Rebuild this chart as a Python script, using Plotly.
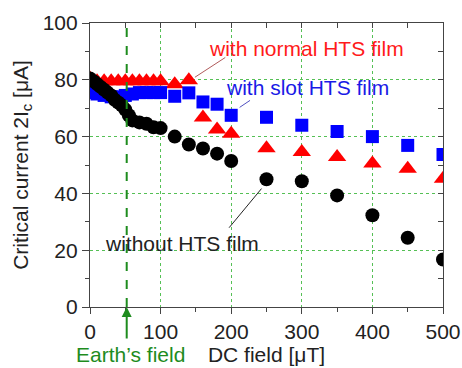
import plotly.graph_objects as go

# Data
x_without = [0, 5, 10, 15, 20, 25, 30, 35, 40, 45, 50, 55, 60, 70, 80, 90, 100,
             120, 140, 160, 180, 200, 250, 300, 350, 400, 450, 500]
y_without = [80.5, 79.5, 78.5, 77.5, 76.5, 75.5, 74.5, 73, 72, 71, 69.5, 67.5, 65.7,
             65, 64.5, 63.3, 63, 60, 57.2, 55.8, 54, 51.4, 45, 44.3, 39.3, 32.3, 24.4, 16.7]

x_slot = [0, 10, 20, 30, 40, 50, 60, 70, 80, 90, 100, 120, 140, 160, 180, 200,
          250, 300, 350, 400, 450, 500]
y_slot = [75.5, 75, 74.5, 74, 74, 74.5, 75, 75.5, 75.5, 75.5, 75.5, 74.2, 75.4,
          72.2, 71.4, 67.5, 66.8, 64, 61.8, 60, 56.9, 53.7]

x_normal = [0, 10, 20, 30, 40, 50, 60, 70, 80, 90, 100, 120, 140, 160, 180, 200,
            250, 300, 350, 400, 450, 500]
y_normal = [80.5, 79.5, 79.5, 79.5, 79.5, 79.5, 79.5, 79.5, 79.5, 79.5, 79.5, 78.4,
            79.8, 66.7, 62.5, 61, 55.9, 54.6, 52.8, 50.5, 48.7, 45.2]

earth_field = 52

FONT = "Liberation Sans, Arial, sans-serif"
GREEN = "#1e8c1e"

fig = go.Figure()
fig.add_trace(go.Scatter(x=x_normal, y=y_normal, mode="markers",
                         marker=dict(symbol="triangle-up", size=16, color="#ff0000"),
                         showlegend=False))
fig.add_trace(go.Scatter(x=x_slot, y=y_slot, mode="markers",
                         marker=dict(symbol="square", size=13, color="#0000ff"),
                         showlegend=False))
fig.add_trace(go.Scatter(x=x_without, y=y_without, mode="markers",
                         marker=dict(symbol="circle", size=14, color="#000000"),
                         showlegend=False))

# Earth's field dashed line
fig.add_shape(type="line", xref="x", yref="y", x0=earth_field, x1=earth_field,
              y0=0, y1=100, line=dict(color=GREEN, width=2, dash="dash"), layer="above")

grid = dict(showgrid=True, gridcolor="#55c055", griddash="dot", gridwidth=1)

fig.update_layout(
    width=462, height=368,
    margin=dict(l=90, r=19, t=23, b=61, autoexpand=False),
    paper_bgcolor="white", plot_bgcolor="white",
    font=dict(family=FONT, size=21, color="#222222"),
    xaxis=dict(range=[0, 500], tickvals=[0, 100, 200, 300, 400, 500],
               ticks="outside", ticklen=6, tickcolor="#444", showline=True,
               linecolor="#444", linewidth=1.2, mirror=True, zeroline=False,
               automargin=False,
               minor=dict(tickvals=[50, 150, 250, 350, 450], ticks="outside",
                          ticklen=4, tickcolor="#444", showgrid=False),
               title=dict(text="DC field [μT]", standoff=4,
                          font=dict(size=21, color="#222222")),
               **grid),
    yaxis=dict(range=[0, 100], tickvals=[0, 20, 40, 60, 80, 100],
               ticks="outside", ticklen=7, tickcolor="#444", showline=True,
               linecolor="#444", linewidth=1.2, mirror=True, zeroline=False,
               automargin=False,
               minor=dict(tickvals=[10, 30, 50, 70, 90], ticks="outside",
                          ticklen=4, tickcolor="#444", showgrid=False),
               title=dict(text="Critical current 2I<sub>c</sub> [μA]", standoff=8,
                          font=dict(size=21, color="#222222")),
               **grid),
    xaxis2=dict(overlaying="x", side="top", range=[0, 500],
                tickvals=[0, 50, 100, 150, 200, 250, 300, 350, 400, 450, 500],
                ticks="inside", ticklen=5, tickcolor="#444", showticklabels=False,
                showgrid=False, zeroline=False, automargin=False),
    yaxis2=dict(overlaying="y", side="right", range=[0, 100],
                tickvals=[0, 10, 20, 30, 40, 50, 60, 70, 80, 90, 100],
                ticks="inside", ticklen=5, tickcolor="#444", showticklabels=False,
                showgrid=False, zeroline=False, automargin=False),
)

# invisible trace to activate overlay axes
fig.add_trace(go.Scatter(x=[None], y=[None], xaxis="x2", yaxis="y2",
                         showlegend=False, hoverinfo="skip"))

# Annotations
fig.add_annotation(x=148.6, y=80.9, ax=193.7, ay=88.2, axref="x", ayref="y",
                   xref="x", yref="y", text="", showarrow=True, arrowhead=0,
                   arrowwidth=1, arrowcolor="#b05a5a")
fig.add_annotation(x=306, y=91.1, xref="x", yref="y", text="with normal HTS film",
                   showarrow=False, font=dict(size=21, color="#ff1a1a"))

fig.add_annotation(x=212, y=70.3, ax=228.8, ay=73.1, axref="x", ayref="y",
                   xref="x", yref="y", text="", showarrow=True, arrowhead=0,
                   arrowwidth=1, arrowcolor="#5050c0")
fig.add_annotation(x=307.8, y=77.4, xref="x", yref="y", text="with slot HTS film",
                   showarrow=False, font=dict(size=21, color="#1a1ae6"))

fig.add_annotation(x=243, y=41.7, ax=195.3, ay=27.4, axref="x", ayref="y",
                   xref="x", yref="y", text="", showarrow=True, arrowhead=0,
                   arrowwidth=1, arrowcolor="#222222")
fig.add_annotation(x=130.4, y=22.4, xref="x", yref="y", text="without HTS film",
                   showarrow=False, font=dict(size=21, color="#222222"))

# Earth's field arrow and label
fig.add_annotation(x=earth_field, y=0, xref="x", yref="y", ax=0, ay=33,
                   text="", showarrow=True, arrowhead=2, arrowsize=1,
                   arrowwidth=2, arrowcolor=GREEN)
fig.add_annotation(x=0.1146, y=-0.167, xref="paper", yref="paper",
                   xanchor="center", yanchor="middle", borderpad=0,
                   text="Earth’s field", showarrow=False,
                   font=dict(size=21, color=GREEN))

fig.write_html("out.html")
